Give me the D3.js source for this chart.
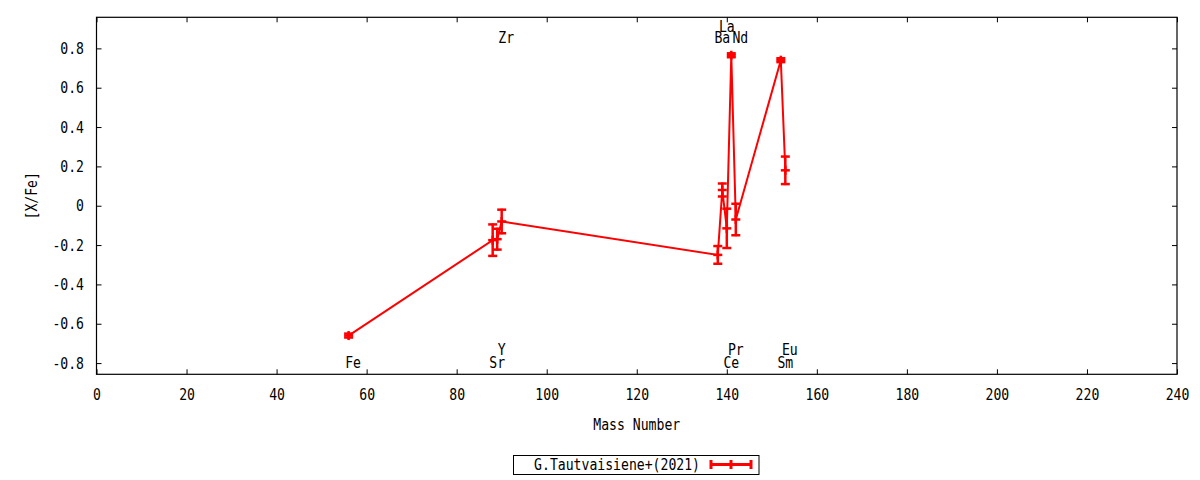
<!DOCTYPE html>
<html>
<head>
<meta charset="utf-8">
<script src="https://cdn.jsdelivr.net/npm/d3@7"></script>
<style>
  body { margin: 0; background: #fff; }
  text { font-family: 'DejaVu Sans Mono', monospace; font-size: 15px; fill: #000; }
</style>
</head>
<body>
<div id="chart"></div>
<script>
// abundances
const elements = ['Fe', 'Sr', 'Y', 'Zr', 'Ba', 'La', 'Ce', 'Pr', 'Nd', 'Sm', 'Eu']
const massNumbers = [56, 88, 89, 90, 138, 139, 140, 141, 142, 152, 153]
const xfe = [-0.66, -0.175, -0.17, -0.08, -0.25, 0.08, -0.115, 0.765, -0.07, 0.74, 0.18]
const xfeErr = [0.01, 0.08, 0.053, 0.06, 0.045, 0.033, 0.10, 0.01, 0.08, 0.01, 0.07]
// element name positions, in [X/Fe] units
const labelLevel = [-0.8, -0.8, -0.73, 0.855, 0.855, 0.91, -0.8, -0.73, 0.855, -0.8, -0.73]

const xTicks = [0, 20, 40, 60, 80, 100, 120, 140, 160, 180, 200, 220, 240]
const yTicks = [-0.8, -0.6, -0.4, -0.2, 0, 0.2, 0.4, 0.6, 0.8]
const seriesName = 'G.Tautvaisiene+(2021)'

const width = 1200
const height = 480
const red = '#ff0000'
const charW = 7.9

const x = d3.scaleLinear().domain([0, 240]).range([96.5, 1177])
const y = d3.scaleLinear().domain([-0.857, 0.958]).range([374.3, 17.3])

const svg = d3.select('#chart')
  .append('svg')
  .attr('width', width)
  .attr('height', height)

// squeeze mono text a bit so it looks like the gnuplot font
const squeeze = sel => sel.each(function() {
  const n = this.textContent.length
  d3.select(this).attr('textLength', n * charW).attr('lengthAdjust', 'spacingAndGlyphs')
})

// axes, ticks pointing inward, mirrored on top and right
const bottom = svg.append('g')
  .attr('transform', `translate(0,${y.range()[0]})`)
  .call(d3.axisBottom(x).tickValues(xTicks).tickSize(-5).tickSizeOuter(0).tickFormat(d3.format('d')))
bottom.selectAll('text').attr('y', 26).attr('dy', null)
  .attr('font-size', null).attr('font-family', null).call(squeeze)

const left = svg.append('g')
  .attr('transform', `translate(${x.range()[0]},0)`)
  .call(d3.axisLeft(y).tickValues(yTicks).tickSize(-5).tickSizeOuter(0)
    .tickFormat(d => d === 0 ? '0' : d3.format('.1f')(d).replace('−', '-')))
left.selectAll('text').attr('x', -12.5).attr('dy', '0.35em')
  .attr('font-size', null).attr('font-family', null).call(squeeze)

svg.append('g')
  .attr('transform', `translate(0,${y.range()[1]})`)
  .call(d3.axisTop(x).tickValues(xTicks).tickSize(-5).tickSizeOuter(0).tickFormat(''))

svg.append('g')
  .attr('transform', `translate(${x.range()[1]},0)`)
  .call(d3.axisRight(y).tickValues(yTicks).tickSize(-5).tickSizeOuter(0).tickFormat(''))

svg.selectAll('.domain').remove()
svg.selectAll('.tick line').attr('stroke', '#000')

svg.append('rect')
  .attr('x', x.range()[0])
  .attr('y', y.range()[1])
  .attr('width', x.range()[1] - x.range()[0])
  .attr('height', y.range()[0] - y.range()[1])
  .attr('fill', 'none')
  .attr('stroke', '#000')
  .attr('stroke-width', 1.2)

// axis titles
svg.append('text')
  .attr('x', (x.range()[0] + x.range()[1]) / 2)
  .attr('y', 430)
  .attr('text-anchor', 'middle')
  .text('Mass Number')
  .call(squeeze)

svg.append('text')
  .attr('transform', `translate(37,${(y.range()[0] + y.range()[1]) / 2}) rotate(-90)`)
  .attr('text-anchor', 'middle')
  .text('[X/Fe]')
  .call(squeeze)

// element names
svg.append('g')
  .selectAll('text')
  .data(elements)
  .enter()
  .append('text')
  .attr('x', (d, i) => x(massNumbers[i] + 1))
  .attr('y', (d, i) => y(labelLevel[i]))
  .attr('dy', '0.35em')
  .attr('text-anchor', 'middle')
  .text(d => d)
  .call(squeeze)

// data
const points = massNumbers.map((m, i) => ({ m, v: xfe[i], e: xfeErr[i] }))

const line = d3.line()
  .x(d => x(d.m))
  .y(d => y(d.v))

svg.append('path')
  .datum(points)
  .attr('d', line)
  .attr('fill', 'none')
  .attr('stroke', red)
  .attr('stroke-width', 2)

const cap = 4.5
const bars = svg.append('g')
  .selectAll('g')
  .data(points)
  .enter()
  .append('g')

bars.append('line')
  .attr('x1', d => x(d.m)).attr('x2', d => x(d.m))
  .attr('y1', d => y(d.v - d.e) + 1).attr('y2', d => y(d.v + d.e) - 1)
  .attr('stroke', red).attr('stroke-width', 2.5)

// top cap, bottom cap and the point itself
for (const off of [-1, 0, 1]) {
  bars.append('line')
    .attr('x1', d => x(d.m) - cap).attr('x2', d => x(d.m) + cap)
    .attr('y1', d => y(d.v + off * d.e)).attr('y2', d => y(d.v + off * d.e))
    .attr('stroke', red).attr('stroke-width', 2.5)
}
bars.append('line')
  .attr('x1', d => x(d.m)).attr('x2', d => x(d.m))
  .attr('y1', d => y(d.v) - cap).attr('y2', d => y(d.v) + cap)
  .attr('stroke', red).attr('stroke-width', 2.5)

// legend
const legend = svg.append('g')
legend.append('rect')
  .attr('x', 513.5).attr('y', 455.5)
  .attr('width', 245.5).attr('height', 19)
  .attr('fill', 'none').attr('stroke', '#000')
legend.append('text')
  .attr('x', 700).attr('y', 465).attr('dy', '0.35em')
  .attr('text-anchor', 'end')
  .text(seriesName)
  .call(squeeze)
legend.append('line')
  .attr('x1', 710).attr('x2', 752).attr('y1', 464.5).attr('y2', 464.5)
  .attr('stroke', red).attr('stroke-width', 3)
for (const lx of [711, 731, 751]) {
  legend.append('line')
    .attr('x1', lx).attr('x2', lx).attr('y1', 460).attr('y2', 469)
    .attr('stroke', red).attr('stroke-width', 3)
}
</script>
</body>
</html>
